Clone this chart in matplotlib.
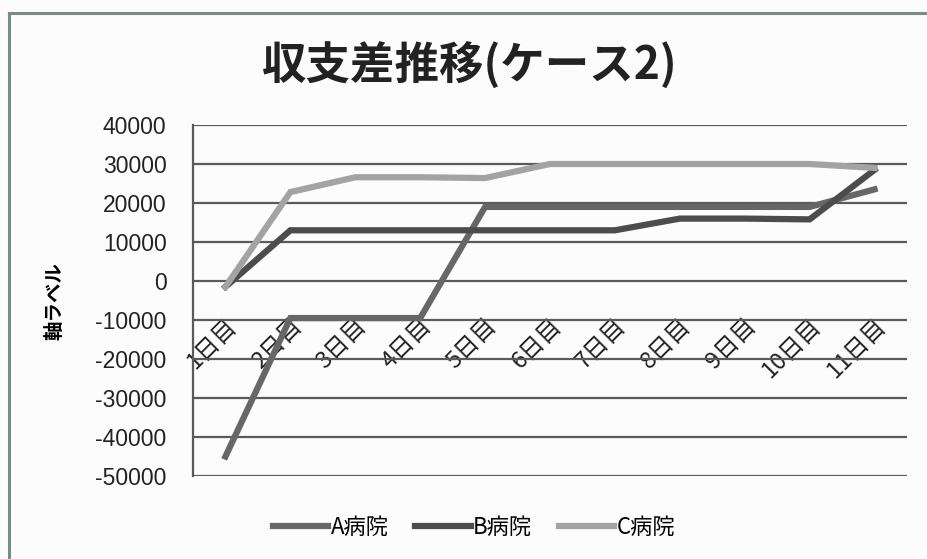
import numpy as np
import matplotlib.pyplot as plt
from matplotlib.lines import Line2D

plt.rcParams['font.family'] = ['Noto Sans CJK JP', 'DejaVu Sans']

# データ
days = ['1日目', '2日目', '3日目', '4日目', '5日目', '6日目',
        '7日目', '8日目', '9日目', '10日目', '11日目']
a_hospital = [-45000, -9500, -9500, -9500, 19000, 19000, 19000, 19000, 19000, 19000, 23500]
b_hospital = [-1500, 13000, 13000, 13000, 13000, 13000, 13000, 16000, 16000, 15800, 28500]
c_hospital = [-1500, 22800, 26600, 26600, 26400, 30000, 30000, 30000, 30000, 30000, 29000]
y_ticks = [40000, 30000, 20000, 10000, 0, -10000, -20000, -30000, -40000, -50000]

W, H = 927, 559
fig = plt.figure(figsize=(W / 100, H / 100), dpi=100)
fig.patch.set_facecolor('#fcfcfc')

# 外枠
fig.add_artist(Line2D([9 / W, 9 / W], [0, 1 - 13 / H], color='#7a8a85', lw=2.2,
                      transform=fig.transFigure))
fig.add_artist(Line2D([9 / W, 1], [1 - 13 / H, 1 - 13 / H], color='#7a8a85', lw=2.2,
                      transform=fig.transFigure))

ax = fig.add_axes([193 / W, (H - 476) / H, (907 - 193) / W, (476 - 125) / H])
ax.set_facecolor('#fcfcfc')

x = np.arange(len(days))
series = [('A病院', a_hospital, '#676767'),
          ('B病院', b_hospital, '#4c4c4c'),
          ('C病院', c_hospital, '#a3a3a3')]
for name, vals, col in series:
    ax.plot(x, vals, color=col, lw=4.5, label=name, solid_joinstyle='miter', zorder=3)

ax.set_xlim(-0.5, len(days) - 0.5)
ax.set_ylim(-50000, 40000)
ax.set_yticks(y_ticks)
ax.set_yticklabels([str(v) for v in y_ticks], family='Liberation Sans', fontsize=16.5)
ax.grid(axis='y', color='#5a5a5a', lw=1.6, zorder=1)
ax.tick_params(axis='y', length=0, pad=19, colors='#222222')

# 横軸は0の位置に
ax.spines['bottom'].set_position(('data', 0))
ax.spines['bottom'].set_visible(False)
ax.spines['top'].set_visible(False)
ax.spines['right'].set_visible(False)
ax.spines['left'].set_color('#5a5a5a')
ax.spines['left'].set_linewidth(1.6)
ax.set_xticks(x)
ax.set_xticklabels(days, rotation=45, ha='right', rotation_mode='anchor', fontsize=17)
ax.tick_params(axis='x', length=0, pad=24, colors='#222222')

ax.set_ylabel('軸ラベル', fontsize=14, fontweight='bold')
ax.yaxis.set_label_coords(-0.18, 0.5)

fig.text(470 / W, 1 - 66 / H, '収支差推移(ケース2)', ha='center', va='center',
         fontsize=32, fontweight='bold', color='#222222')

fig.legend(loc='center', bbox_to_anchor=(474 / W, 1 - 527 / H), ncol=3, frameon=False,
           fontsize=16, handlelength=2.5, handletextpad=0.1, columnspacing=1.2)

plt.savefig('out.png', dpi=100, facecolor=fig.get_facecolor())
